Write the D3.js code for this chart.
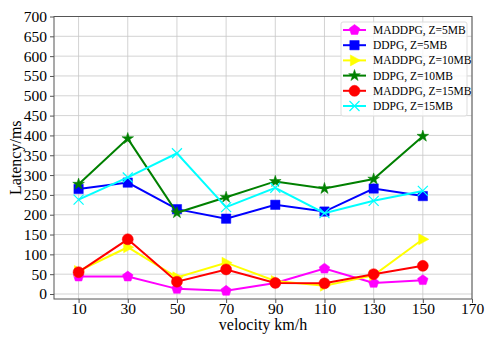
<!DOCTYPE html>
<html><head><meta charset="utf-8">
<script src="https://cdn.jsdelivr.net/npm/d3@7"></script>
<style>body{margin:0;background:#fff}svg{display:block}svg text{font-family:"Liberation Serif","DejaVu Serif",serif !important;}</style>
</head><body><svg id="c" width="500" height="350"></svg>
<script>
const velocities = [10, 30, 50, 70, 90, 110, 130, 150];
const xTicks = [10, 30, 50, 70, 90, 110, 130, 150, 170];
const yTicks = [0, 50, 100, 150, 200, 250, 300, 350, 400, 450, 500, 550, 600, 650, 700];
const seriesNames = ["MADDPG, Z=5MB", "DDPG, Z=5MB", "MADDPG, Z=10MB", "DDPG, Z=10MB", "MADDPG, Z=15MB", "DDPG, Z=15MB"];
const maddpg5 = [44, 44, 13, 8, 28, 64, 28, 35];
const ddpg5 = [265, 281, 214, 190, 225, 208, 266, 247];
const maddpg10 = [58, 118, 42, 79, 33, 21, 47, 138];
const ddpg10 = [277, 392, 205, 244, 284, 266, 290, 398];
const maddpg15 = [55, 138, 31, 62, 28, 27, 50, 71];
const ddpg15 = [238, 294, 355, 219, 268, 204, 235, 260];
const colors = ["#ff00ff", "#0000ff", "#ffff00", "#008000", "#ff0000", "#00ffff"];
const markers = ["pentagon", "square", "triangleRight", "star", "circle", "x"];

const seriesValues = [maddpg5, ddpg5, maddpg10, ddpg10, maddpg15, ddpg15];
const svg = d3.select("#c");
const L = 54, R = 472, T = 16.5, B = 299;
const x = d3.scaleLinear().domain([0, 170]).range([L, R]);
const y = d3.scaleLinear().domain([-12.6, 700]).range([B, T]);

// grid
svg.append("g").selectAll("line").data(xTicks).join("line")
  .attr("x1", d => x(d)).attr("x2", d => x(d)).attr("y1", T).attr("y2", B)
  .attr("stroke", "#c8c8c8").attr("stroke-width", 0.8);
svg.append("g").selectAll("line").data(yTicks).join("line")
  .attr("x1", L).attr("x2", R).attr("y1", d => y(d)).attr("y2", d => y(d))
  .attr("stroke", "#c8c8c8").attr("stroke-width", 0.8);

// axes
const xAxis = svg.append("g").attr("transform", `translate(0,${B})`)
  .call(d3.axisBottom(x).tickValues(xTicks).tickSize(4).tickPadding(0));
const yAxis = svg.append("g").attr("transform", `translate(${L},0)`)
  .call(d3.axisLeft(y).tickValues(yTicks).tickSize(4).tickPadding(3));
[xAxis, yAxis].forEach(a => {
  a.attr("font-family", null);
  a.selectAll("text").attr("font-size", 15.5).attr("fill", "#000");
  a.selectAll("line").attr("stroke", "#555");
  a.select(".domain").remove();
});
svg.append("rect").attr("x", L).attr("y", T).attr("width", R - L).attr("height", B - T)
  .attr("fill", "none").attr("stroke", "#555").attr("stroke-width", 1);

svg.append("text").attr("x", (L + R) / 2).attr("y", 330).attr("text-anchor", "middle")
  .attr("font-size", 16).text("velocity km/h");
svg.append("text").attr("transform", `translate(21,${(T + B) / 2}) rotate(-90)`).attr("text-anchor", "middle")
  .attr("font-size", 16).text("Latency/ms");

function markerPath(type, s) {
  if (type === "circle") return d3.symbol(d3.symbolCircle, Math.PI * s * s)();
  if (type === "square") return d3.symbol(d3.symbolSquare, (1.7 * s) * (1.7 * s))();
  if (type === "star") return d3.symbol(d3.symbolStar, 2.4 * s * s)();
  if (type === "x") return `M${-s},${-s}L${s},${s}M${-s},${s}L${s},${-s}`;
  if (type === "pentagon") {
    const pts = d3.range(5).map(i => { const a = -Math.PI / 2 + i * 2 * Math.PI / 5; return [s * Math.cos(a), s * Math.sin(a)]; });
    return "M" + pts.map(p => p.join(",")).join("L") + "Z";
  }
  if (type === "triangleRight") {
    return `M${s * 1.1},0L${-s * 0.75},${-s}L${-s * 0.75},${s}Z`;
  }
}
const sizes = { pentagon: 5.5, square: 5.5, triangleRight: 5.5, star: 4.2, circle: 5.5, x: 5 };

const line = d3.line().x((d, i) => x(velocities[i])).y(d => y(d));
seriesValues.forEach((vals, k) => {
  const g = svg.append("g");
  g.append("path").datum(vals).attr("d", line).attr("fill", "none")
    .attr("stroke", colors[k]).attr("stroke-width", 2);
  const isX = markers[k] === "x";
  g.selectAll("path.m").data(vals).join("path").attr("class", "m")
    .attr("transform", (d, i) => `translate(${x(velocities[i])},${y(d)})`)
    .attr("d", markerPath(markers[k], sizes[markers[k]]))
    .attr("fill", isX ? "none" : colors[k])
    .attr("stroke", colors[k]).attr("stroke-width", isX ? 1.2 : 0.5);
});

// legend
const lg = svg.append("g");
lg.append("rect").attr("x", 341).attr("y", 22).attr("width", 126).attr("height", 94).attr("rx", 2)
  .attr("fill", "#fff").attr("fill-opacity", 0.8).attr("stroke", "#dddddd");
seriesNames.forEach((name, k) => {
  const yy = 30 + k * 15.2;
  lg.append("line").attr("x1", 343).attr("x2", 366).attr("y1", yy).attr("y2", yy)
    .attr("stroke", colors[k]).attr("stroke-width", 2);
  const isX = markers[k] === "x";
  lg.append("path").attr("transform", `translate(354.5,${yy})`)
    .attr("d", markerPath(markers[k], sizes[markers[k]]))
    .attr("fill", isX ? "none" : colors[k]).attr("stroke", colors[k]).attr("stroke-width", isX ? 1.2 : 0.5);
  lg.append("text").attr("x", 373).attr("y", yy + 4).attr("font-size", 11.5)
    .text(name);
});
</script></body></html>
